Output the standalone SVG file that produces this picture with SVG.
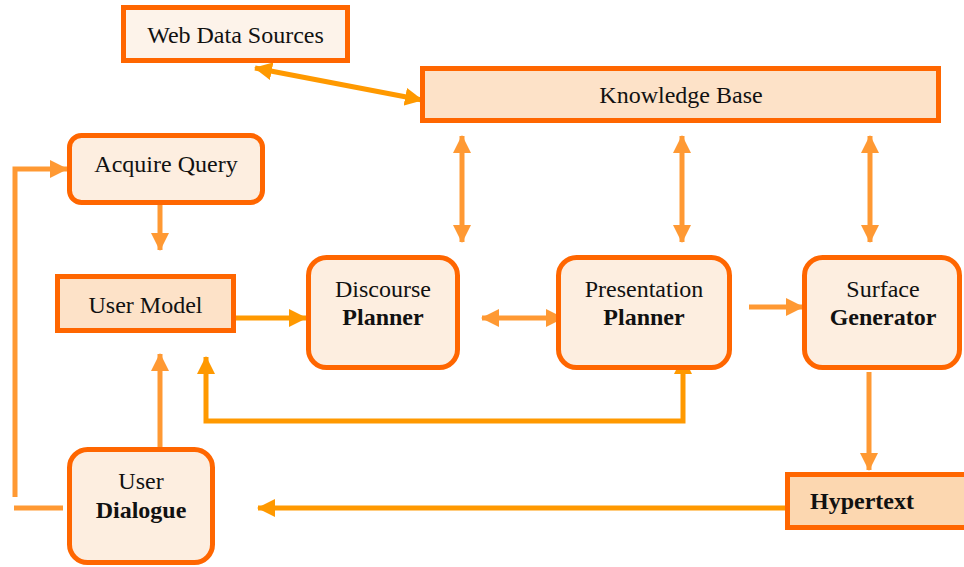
<svg xmlns="http://www.w3.org/2000/svg" width="964" height="567" viewBox="0 0 964 567">
<defs>
<style>
.box{stroke:#FF6600;stroke-width:5}
.light{fill:#FDEEE0}
.pale{fill:#FDF3EA}
.peach{fill:#FDE2C8}
.deep{fill:#FCD7B0}
.t{font-family:"Liberation Serif","Times New Roman",serif;font-size:24px;fill:#111;text-anchor:middle}
.b{font-weight:bold}
.ca{fill:none;stroke:#FF9900;stroke-width:5}
.cb{fill:none;stroke:#FF9933;stroke-width:5}
</style>
<marker id="ha" markerUnits="userSpaceOnUse" markerWidth="18" markerHeight="18" refX="17" refY="9" orient="auto-start-reverse"><path d="M0,0 L18,9 L0,18 z" fill="#FF9900"/></marker>
<marker id="hb" markerUnits="userSpaceOnUse" markerWidth="18" markerHeight="18" refX="17" refY="9" orient="auto-start-reverse"><path d="M0,0 L18,9 L0,18 z" fill="#FF9933"/></marker>
</defs>
<rect width="964" height="567" fill="#fff"/>
<g id="connectors">
<line class="ca" x1="255" y1="68" x2="422" y2="100" marker-start="url(#ha)" marker-end="url(#ha)"/>
<line class="cb" x1="462" y1="136" x2="462" y2="242" marker-start="url(#hb)" marker-end="url(#hb)"/>
<line class="cb" x1="682" y1="136" x2="682" y2="242" marker-start="url(#hb)" marker-end="url(#hb)"/>
<line class="cb" x1="870" y1="136" x2="870" y2="242" marker-start="url(#hb)" marker-end="url(#hb)"/>
<line class="cb" x1="160" y1="205" x2="160" y2="250" marker-end="url(#hb)"/>
<line class="ca" x1="236" y1="318" x2="306" y2="318" marker-end="url(#ha)"/>
<line class="cb" x1="482" y1="318" x2="563" y2="318" marker-start="url(#hb)" marker-end="url(#hb)"/>
<line class="cb" x1="749" y1="307" x2="803" y2="307" marker-end="url(#hb)"/>
<line class="cb" x1="869" y1="372" x2="869" y2="470" marker-end="url(#hb)"/>
<line class="ca" x1="785" y1="508" x2="258" y2="508" marker-end="url(#ha)"/>
<line class="cb" x1="160" y1="447" x2="160" y2="354" marker-end="url(#hb)"/>
<polyline class="ca" points="206,357 206,421 683,421 683,357" marker-start="url(#ha)" marker-end="url(#ha)"/>
<polyline class="cb" points="15,497 15,169 67,169" marker-end="url(#hb)"/>
<line class="cb" x1="14" y1="508" x2="63" y2="508"/>
</g>
<g id="web-data-sources">
<rect class="box pale" x="123.5" y="7.5" width="224" height="53"/>
<text class="t" x="235.5" y="43">Web Data Sources</text>
</g>
<g id="knowledge-base">
<rect class="box peach" x="422.5" y="68.5" width="516" height="52"/>
<text class="t" x="681" y="103">Knowledge Base</text>
</g>
<g id="acquire-query">
<rect class="box light" x="69.5" y="135.5" width="193" height="67" rx="12"/>
<text class="t" x="166" y="172">Acquire Query</text>
</g>
<g id="user-model">
<rect class="box peach" x="57.5" y="276.5" width="176" height="54"/>
<text class="t" x="145.5" y="313">User Model</text>
</g>
<g id="discourse-planner">
<rect class="box light" x="308.5" y="257.5" width="149" height="110" rx="18"/>
<text class="t" x="383" y="297">Discourse</text>
<text class="t b" x="383" y="325">Planner</text>
</g>
<g id="presentation-planner">
<rect class="box light" x="558.5" y="257.5" width="171" height="110" rx="18"/>
<text class="t" x="644" y="297">Presentation</text>
<text class="t b" x="644" y="325">Planner</text>
</g>
<g id="surface-generator">
<rect class="box light" x="804.5" y="257.5" width="155" height="110" rx="18"/>
<text class="t" x="883" y="297">Surface</text>
<text class="t b" x="883" y="325">Generator</text>
</g>
<g id="hypertext">
<rect class="box deep" x="787.5" y="474.5" width="190" height="53"/>
<text class="t b" x="810" y="509" style="text-anchor:start">Hypertext</text>
</g>
<g id="user-dialogue">
<rect class="box light" x="69.5" y="449.5" width="143" height="113" rx="18"/>
<text class="t" x="141" y="489">User</text>
<text class="t b" x="141" y="518">Dialogue</text>
</g>
</svg>
